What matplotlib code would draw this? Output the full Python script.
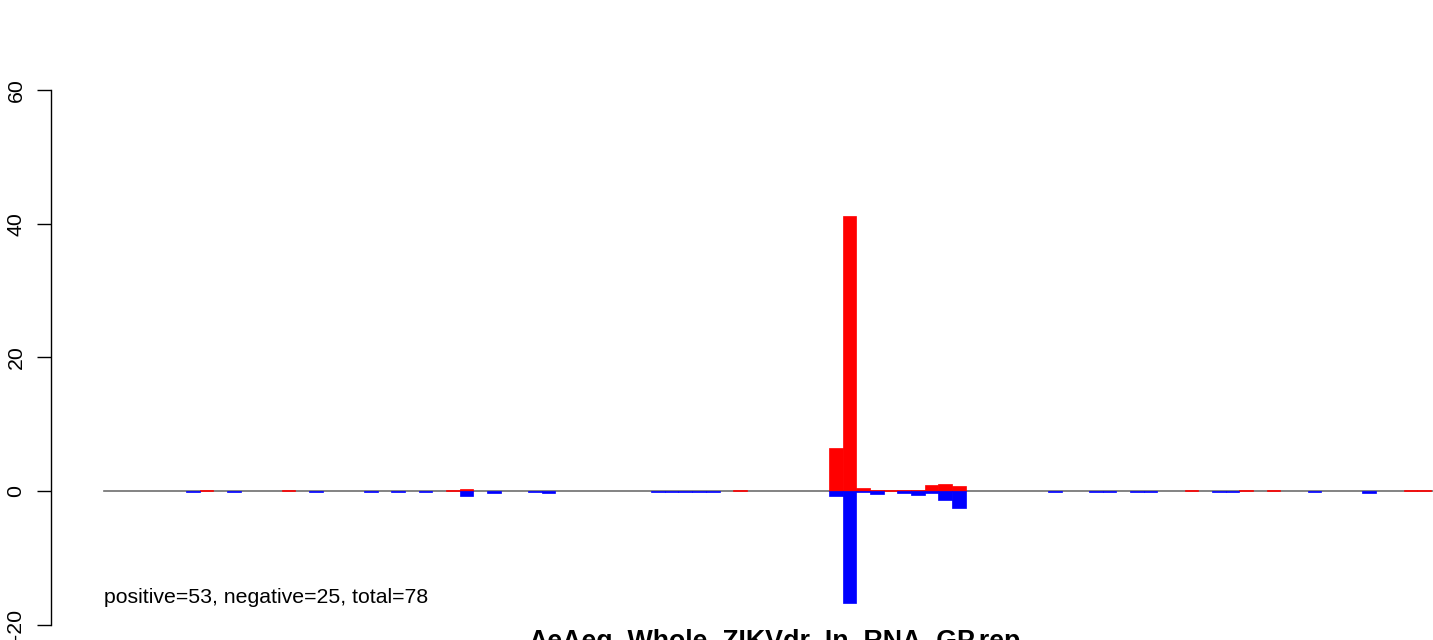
import matplotlib
matplotlib.use("Agg")
import matplotlib.pyplot as plt

plt.rcParams['font.family'] = ['Liberation Sans', 'DejaVu Sans']

n_bars = 98
# positive (red) values per bar position
pos_values = [0.0] * n_bars
for i, v in {7: 0.1, 13: 0.1, 25: 0.1, 26: 0.35, 46: 0.1,
             53: 6.4, 54: 41.1, 55: 0.45, 56: 0.15, 57: 0.08, 58: 0.1,
             59: 0.2, 60: 0.95, 61: 1.05, 62: 0.75,
             79: 0.1, 83: 0.1, 85: 0.1, 95: 0.1, 96: 0.1}.items():
    pos_values[i] = v
# negative (blue) values per bar position
neg_values = [0.0] * n_bars
for i, v in {6: -0.1, 9: -0.1, 15: -0.1, 19: -0.1, 21: -0.1, 23: -0.1,
             26: -0.7, 28: -0.25, 31: -0.1, 32: -0.25,
             40: -0.1, 41: -0.1, 42: -0.1, 43: -0.1, 44: -0.1,
             53: -0.8, 54: -16.7, 55: -0.2, 56: -0.5, 58: -0.3, 59: -0.6,
             60: -0.3, 61: -1.4, 62: -2.6,
             69: -0.1, 72: -0.1, 73: -0.1, 75: -0.1, 76: -0.1,
             81: -0.1, 82: -0.1, 88: -0.1, 92: -0.25}.items():
    neg_values[i] = v

y_ticks = [-20, 0, 20, 40, 60]
summary_text = "positive=53, negative=25, total=78"
title_text = "AeAeg_Whole_ZIKVdr_In_RNA_GP.rep"

W, H = 1433, 640
fig = plt.figure(figsize=(W / 100, H / 100), dpi=100)

# layout in pixels
ax_left_px, ax_top_px = 50.5, 68.6
bar0_px, bar_w_px = 103.9, 13.68
zero_px, unit_px = 491.0, 6.683

ax = fig.add_axes([ax_left_px / W, 0, (W - ax_left_px) / W, (H - ax_top_px) / H])
ax.set_xlim((ax_left_px - bar0_px) / bar_w_px, (W - bar0_px) / bar_w_px)
ax.set_ylim((zero_px - H) / unit_px, (zero_px - ax_top_px) / unit_px)

ax.plot([0, n_bars], [0, 0], color='#6e6e6e', lw=1.2, zorder=1)

xs = list(range(n_bars))
px = [x for x, v in zip(xs, pos_values) if v != 0]
pv = [v for v in pos_values if v != 0]
nx = [x for x, v in zip(xs, neg_values) if v != 0]
nv = [v for v in neg_values if v != 0]
ax.bar(px, pv, width=1, align='edge', color='#ff0000', edgecolor='#ff0000', linewidth=0.5, zorder=2)
ax.bar(nx, nv, width=1, align='edge', color='#0000ff', edgecolor='#0000ff', linewidth=0.5, zorder=2)

for s in ['top', 'right', 'bottom']:
    ax.spines[s].set_visible(False)
ax.spines['left'].set_bounds(-20, 60)
ax.spines['left'].set_linewidth(1.0)
ax.set_xticks([])
ax.set_yticks(y_ticks)
ax.set_yticklabels([str(t) for t in y_ticks], rotation=90, va='center')
ax.tick_params(axis='y', length=10, width=1.0, direction='out', pad=8, labelsize=15.3)

ax.text(0, (zero_px - 603) / unit_px, summary_text, ha='left', va='baseline', fontsize=15.3)

fig.text((ax_left_px + 1498) / 2 / W, (H - 649) / H, title_text, ha='center', va='baseline',
         fontsize=19.3, fontweight='bold')

fig.savefig('out.png', dpi=100)
